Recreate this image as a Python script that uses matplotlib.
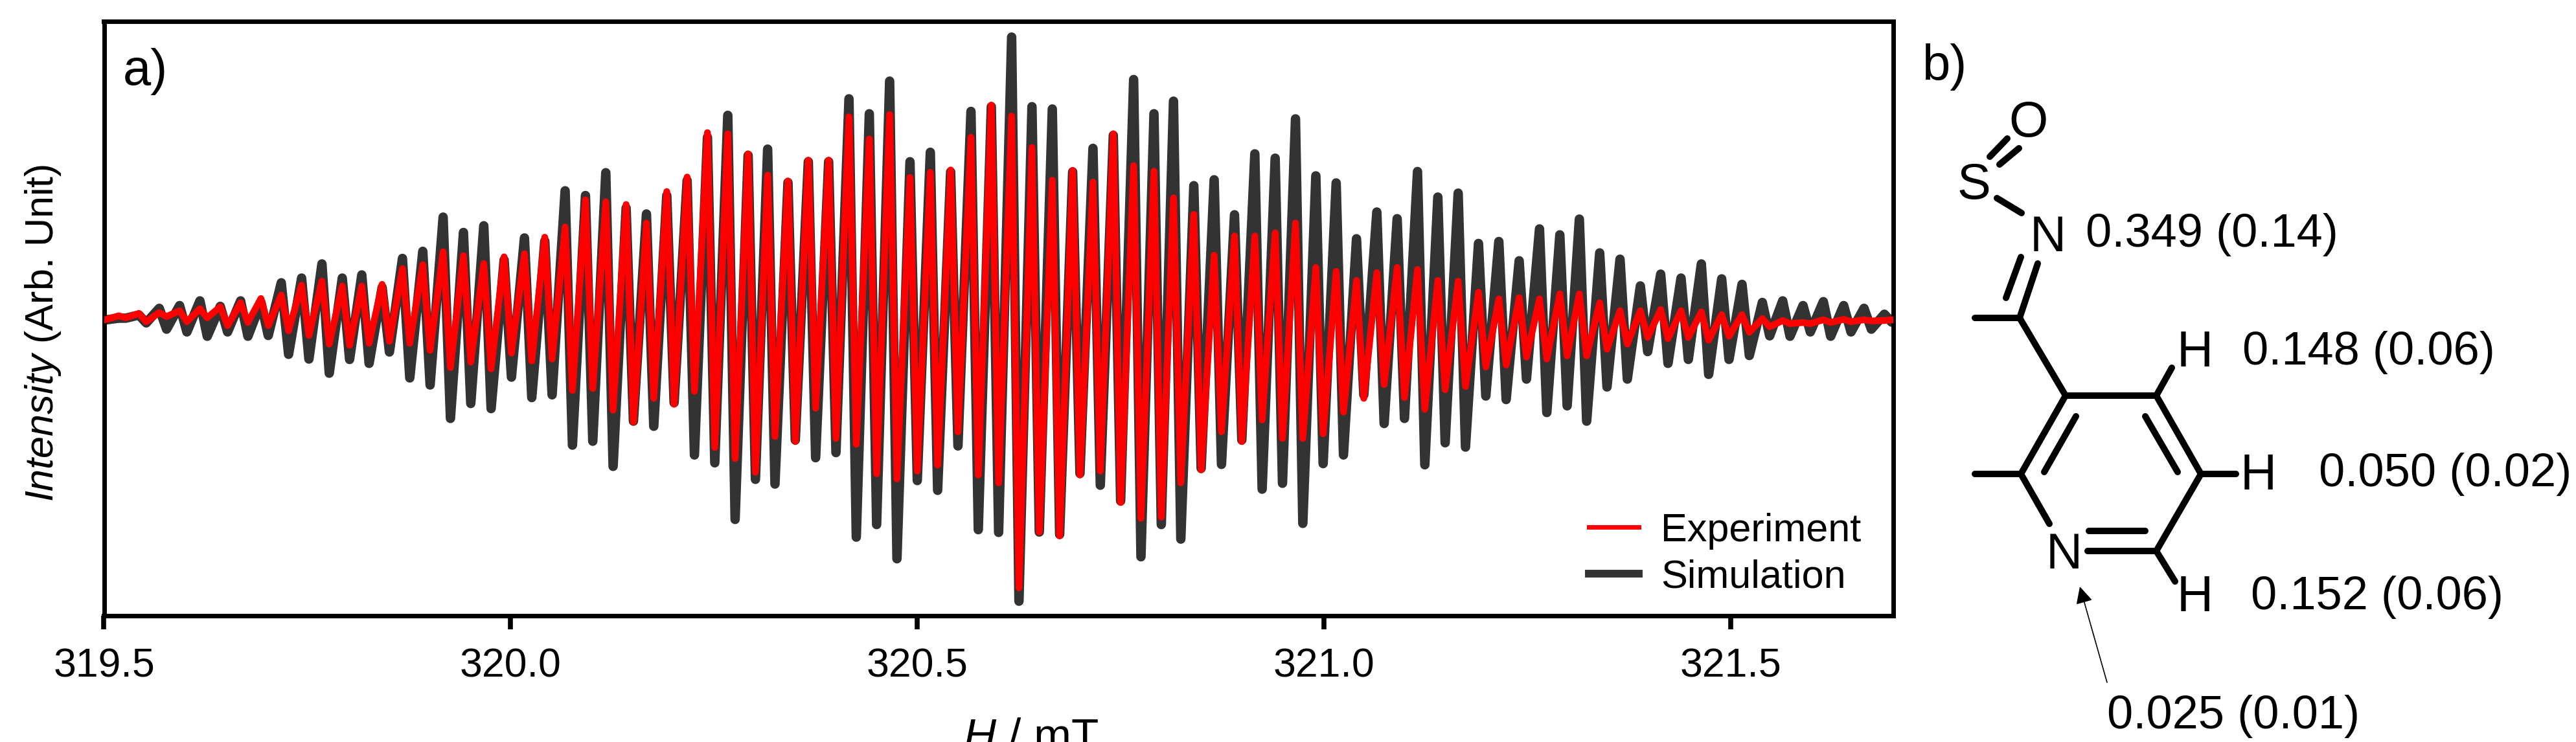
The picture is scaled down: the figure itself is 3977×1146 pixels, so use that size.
import matplotlib
matplotlib.use("Agg")
import matplotlib.pyplot as plt
from matplotlib.lines import Line2D

plt.rcParams['font.family'] = ['Liberation Sans', 'DejaVu Sans']
plt.rcParams['mathtext.fontset'] = 'custom'
plt.rcParams['mathtext.rm'] = 'Liberation Sans'
plt.rcParams['mathtext.it'] = 'Liberation Sans:italic'
plt.rcParams['mathtext.bf'] = 'Liberation Sans:bold'

field_limits = [319.5, 321.7]
tick_values = [319.5, 320.0, 320.5, 321.0, 321.5]
tick_labels = ['319.5', '320.0', '320.5', '321.0', '321.5']

field_peaks = [
    319.518, 319.543, 319.568, 319.593, 319.618, 319.643, 319.668, 319.693, 319.718, 319.743,
    319.768, 319.793, 319.817, 319.842, 319.867, 319.892, 319.917, 319.942, 319.967, 319.992,
    320.017, 320.042, 320.067, 320.092, 320.117, 320.142, 320.167, 320.192, 320.217, 320.242,
    320.267, 320.292, 320.316, 320.341, 320.366, 320.391, 320.416, 320.441, 320.466, 320.491,
    320.516, 320.541, 320.566, 320.591, 320.616, 320.641, 320.666, 320.691, 320.716, 320.741,
    320.766, 320.791, 320.815, 320.840, 320.865, 320.890, 320.915, 320.940, 320.965, 320.990,
    321.015, 321.040, 321.065, 321.090, 321.115, 321.140, 321.165, 321.190, 321.215, 321.240,
    321.265, 321.290, 321.314, 321.339, 321.364, 321.389, 321.414, 321.439, 321.464, 321.489,
    321.514, 321.539, 321.564, 321.589, 321.614, 321.639, 321.664, 321.689]
field_troughs = [
    319.527, 319.552, 319.577, 319.602, 319.627, 319.652, 319.677, 319.702, 319.727, 319.752,
    319.777, 319.802, 319.826, 319.851, 319.876, 319.901, 319.926, 319.951, 319.976, 320.001,
    320.026, 320.051, 320.076, 320.101, 320.126, 320.151, 320.176, 320.201, 320.226, 320.251,
    320.276, 320.301, 320.325, 320.350, 320.375, 320.400, 320.425, 320.450, 320.475, 320.500,
    320.525, 320.550, 320.575, 320.600, 320.625, 320.650, 320.675, 320.700, 320.725, 320.750,
    320.775, 320.800, 320.824, 320.849, 320.874, 320.899, 320.924, 320.949, 320.974, 320.999,
    321.024, 321.049, 321.074, 321.099, 321.124, 321.149, 321.174, 321.199, 321.224, 321.249,
    321.274, 321.299, 321.323, 321.348, 321.373, 321.398, 321.423, 321.448, 321.473, 321.498,
    321.523, 321.548, 321.573, 321.598, 321.623, 321.648, 321.673, 321.698]

sim_peaks = [
    0.5, 1.3, 3.0, 3.7, 4.9, 3.5, 4.9, 4.5, 9.5, 10.7, 14.3, 10.7, 11.5, 8.3, 15.7, 17.5,
    26.2, 22.3, 24.0, 15.3, 20.9, 20.1, 32.9, 31.7, 37.5, 28.5, 27.0, 31.7, 35.5, 46.5, 52.1,
    41.9, 43.5, 35.0, 40.3, 40.3, 56.3, 52.5, 60.8, 40.3, 42.7, 37.7, 53.1, 54.3, 72.0, 54.3,
    53.7, 37.7, 43.7, 47.0, 61.2, 52.5, 55.7, 34.2, 35.7, 26.8, 42.3, 41.2, 51.2, 36.7, 34.9, 20.7,
    27.5, 25.8, 37.8, 31.3, 32.3, 19.5, 20.0, 15.1, 23.2, 21.7, 25.7, 17.1, 15.5, 8.7, 11.7, 10.7,
    14.3, 10.5, 9.1, 4.5, 4.9, 3.7, 4.7, 3.7, 3.0, 1.5]
sim_troughs = [
    0.5, -0.7, -2.3, -3.0, -4.1, -3.0, -4.1, -3.9, -8.7, -9.9, -13.5, -10.0, -11.0, -8.1, -14.7, -16.5,
    -25.0, -21.2, -22.5, -14.5, -19.7, -19.0, -31.8, -30.8, -37.2, -25.7, -27.0, -21.0, -34.3, -36.3, -50.7,
    -40.5, -41.7, -30.5, -35.0, -33.7, -55.2, -52.0, -60.7, -40.8, -43.3, -32.0, -53.3, -54.0, -71.5, -53.9,
    -54.5, -39.0, -42.0, -46.0, -60.2, -52.0, -55.7, -37.7, -36.7, -30.5, -43.0, -41.5, -51.7, -36.5, -34.3, -19.0,
    -26.3, -25.0, -36.8, -31.2, -32.3, -19.3, -20.2, -15.0, -23.5, -21.8, -25.7, -17.0, -15.0, -8.0, -11.0, -10.0,
    -13.8, -10.0, -9.0, -4.0, -4.1, -3.0, -4.1, -3.0, -2.3, -0.5]
exp_peaks = [
    1.1, 1.7, 1.9, 2.4, 2.9, 3.4, 4.4, 5.5, 6.4, 8.9, 9.9, 8.7, 8.7, 9.1, 13.1, 14.1,
    17.4, 16.4, 14.4, 16.1, 16.9, 21.1, 23.7, 30.6, 30.1, 29.4, 24.7, 32.7, 36.4, 47.7, 47.4,
    42.3, 36.9, 35.4, 40.7, 40.7, 51.7, 46.1, 52.3, 36.3, 37.6, 38.2, 46.5, 54.7, 51.9, 43.9,
    35.6, 38.1, 35.1, 47.4, 39.3, 37.9, 31.1, 26.9, 16.5, 21.4, 21.4, 22.2, 24.7, 13.4, 12.4, 10.1,
    12.1, 13.4, 12.9, 10.1, 9.9, 7.1, 5.4, 5.7, 5.4, 6.7, 6.7, 4.4, 2.4, 2.4, 2.7, 2.4,
    2.1, 1.4, 1.4, 0.4, -0.1, -0.6, 0.1, 0.2, 0.1, -0.1]
exp_troughs = [
    0.6, -0.4, 0.9, -0.4, 0.6, -1.4, -0.6, -1.4, -2.7, -3.9, -6.1, -6.4, -5.9, -5.4, -5.9, -7.7,
    -12.1, -10.7, -12.4, -8.4, -10.4, -9.9, -17.9, -17.4, -22.9, -25.9, -19.9, -21.4, -18.1, -32.4, -35.2,
    -38.7, -29.6, -30.9, -22.4, -30.1, -31.6, -39.1, -40.4, -38.4, -36.9, -28.4, -39.4, -41.4, -68.1, -53.9,
    -54.9, -39.4, -38.4, -46.4, -50.4, -50.1, -41.4, -38.1, -28.4, -30.9, -25.4, -30.1, -30.1, -28.9, -23.4, -19.9,
    -16.4, -19.7, -22.7, -17.7, -16.9, -11.9, -11.4, -9.4, -9.9, -9.1, -9.1, -7.4, -6.1, -4.4, -4.7, -4.4,
    -5.1, -4.1, -3.1, -1.7, -0.9, -0.9, -0.6, -0.4, -0.2, 0.1]


def trace(peaks, troughs):
    xs = [field_limits[0]]
    ys = [0.0]
    for xp, xt, p, t in zip(field_peaks, field_troughs, peaks, troughs):
        xs += [xp, xt]
        ys += [p, t]
    xs.append(field_limits[1])
    ys.append(0.0)
    return xs, ys


W, H = 3977, 1146
fig = plt.figure(figsize=(W / 100, H / 100), dpi=100, facecolor='white')
ax = fig.add_axes([160.5 / W, 1 - 951 / H, (2923 - 160.5) / W, (951 - 33) / H])

x, y = trace(sim_peaks, sim_troughs)
ax.plot(x, y, color='#333333', lw=10.5, solid_joinstyle='round', zorder=2)
x, y = trace(exp_peaks, exp_troughs)
ax.plot(x, y, color='#ff0000', lw=7.5, solid_joinstyle='round', zorder=3)

ax.set_xlim(*field_limits)
ax.set_ylim(-75.2, 76)
ax.set_yticks([])
ax.set_xticks(tick_values)
ax.set_xticklabels(tick_labels, fontsize=45)
ax.tick_params(axis='x', direction='out', length=15, width=5.5, pad=20)
for s in ax.spines.values():
    s.set_linewidth(5)
ax.set_ylabel('$\\mathit{Intensity}$ (Arb. Unit)', fontsize=44)
ax.yaxis.set_label_coords(-0.023, 0.476)
ax.set_xlabel('$\\mathit{H}$ / mT', fontsize=50, va='top')
ax.xaxis.set_label_coords(0.518, -0.171)

legend_handles = [Line2D([], [], color='#ff0000', lw=5.0), Line2D([], [], color='#333333', lw=8.6)]
ax.legend(legend_handles, ['Experiment', 'Simulation'], loc='lower right', frameon=False, fontsize=44,
          bbox_to_anchor=(1.002, -0.027), labelspacing=0.25, handlelength=1.26, handletextpad=0.56)
ax.text(0.0105, 0.955, 'a)', transform=ax.transAxes, fontsize=56, va='top', ha='left')

# Panel b: structure drawn on a full-figure pixel overlay
ov = fig.add_axes([0, 0, 1, 1], facecolor='none')
ov.set_xlim(0, W)
ov.set_ylim(H, 0)
ov.axis('off')
segments = [
    ((3049, 491), (3118, 491)), ((3118, 491), (3189, 611)), ((3189, 611), (3329, 611)),
    ((3329, 611), (3398, 732)), ((3398, 732), (3329, 851)), ((3329, 851), (3223, 851)),
    ((3189, 611), (3120, 732)), ((3120, 732), (3049, 732)), ((3120, 732), (3164, 809)),
    ((3329, 611), (3353, 568)), ((3398, 732), (3452, 732)), ((3329, 851), (3358, 898)),
    ((3118, 491), (3146, 407)), ((3097, 460), (3120, 397)),
    ((3156, 729), (3205, 643)), ((3312, 643), (3362, 729)), ((3225, 820), (3312, 820)),
    ((3072, 242), (3099, 214)), ((3087, 254), (3117, 229)), ((3083, 306), (3121, 329)),
]
for a, b in segments:
    ov.plot([a[0], b[0]], [a[1], b[1]], color='black', lw=7.2, solid_capstyle='round')

for s, xx, yy in [('O', 3132, 190), ('S', 3047, 286), ('N', 3162, 367), ('H', 3389, 545),
                  ('H', 3487, 735), ('H', 3389, 924), ('N', 3187, 857)]:
    ov.text(xx, yy, s, fontsize=56, ha='center', va='center')
for s, xx, yy in [('0.349 (0.14)', 3220, 363), ('0.148 (0.06)', 3462, 545), ('0.050 (0.02)', 3580, 733),
                  ('0.152 (0.06)', 3475, 922), ('0.025 (0.01)', 3253, 1106)]:
    ov.text(xx, yy, s, fontsize=52, ha='left', va='center')
ov.text(2968, 103, 'b)', fontsize=56, ha='left', va='center')
ov.annotate('', xy=(3211, 906), xytext=(3253, 1054),
            arrowprops=dict(arrowstyle='-|>', color='black', lw=1.2, mutation_scale=40, shrinkA=0, shrinkB=0))

fig.savefig('out.png', dpi=100)
